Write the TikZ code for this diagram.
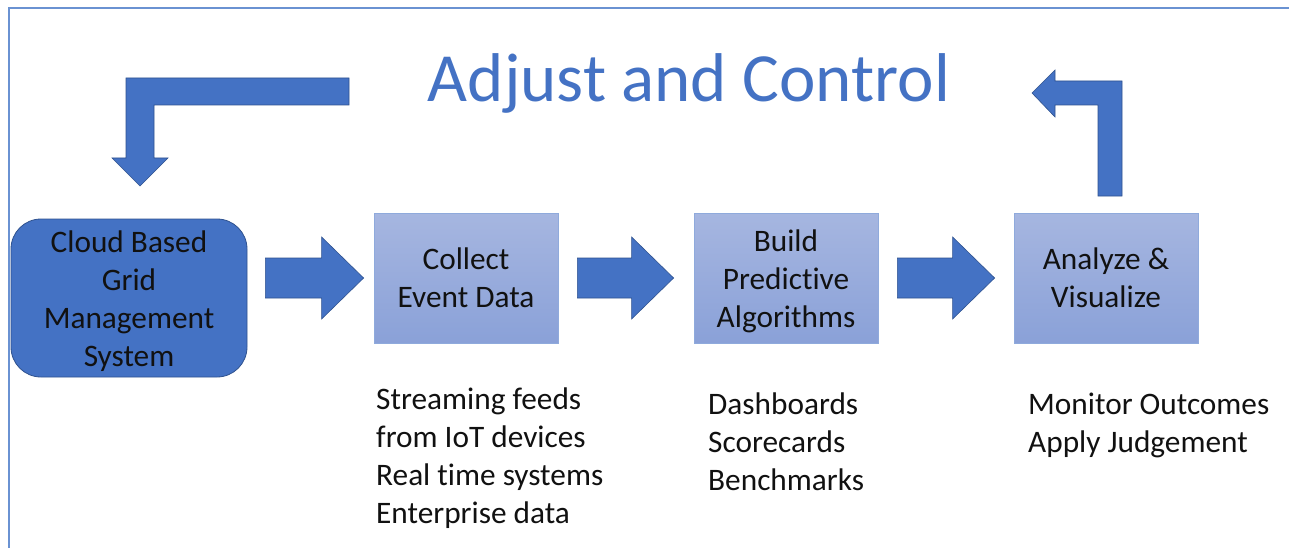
\documentclass[tikz,border=0pt]{standalone}
\usepackage{fontspec}
\setmainfont{Carlito}[Ligatures=NoCommon]
\usetikzlibrary{calc}

\definecolor{accent}{HTML}{4472C4}
\definecolor{accentdark}{HTML}{2F528F}
\definecolor{framecol}{HTML}{6A92D2}
\definecolor{boxtop}{HTML}{A6B6E0}
\definecolor{boxbot}{HTML}{8AA1D8}
\definecolor{boxline}{HTML}{8FAADC}
\definecolor{ink}{HTML}{111111}

\tikzset{
  body/.style={text=ink, font=\fontsize{31.3}{38}\selectfont},
  label/.style={body, align=center, inner sep=0pt},
  stage/.style={rectangle, draw=boxline, line width=0.8pt,
    top color=boxtop, bottom color=boxbot,
    minimum width=184pt, minimum height=130pt, inner sep=0pt,
    align=center, body},
  sourcebox/.style={rectangle, rounded corners=30pt, fill=accent,
    draw=accentdark, line width=0.8pt,
    minimum width=236pt, minimum height=158pt, inner sep=0pt},
  notes/.style={anchor=north west, inner sep=0pt, align=left, body},
  barrow/.style={fill=accent, draw=accentdark, line width=0.6pt, line join=miter},
}

% horizontal block arrow from #1 to #2 (tip at #2)
\newcommand\blockarrow[2]{%
  \path[barrow] let \p1=(#1), \p2=(#2) in
    (\x1,\y1+20pt) -- (\x2-42pt,\y1+20pt) -- (\x2-42pt,\y1+41pt) --
    (\x2,\y2) -- (\x2-42pt,\y1-41pt) -- (\x2-42pt,\y1-20pt) --
    (\x1,\y1-20pt) -- cycle;}

\begin{document}
\begin{tikzpicture}[x=1pt, y=-1pt]
  \useasboundingbox (0,0) rectangle (1289,548);
  \fill[white] (0,0) rectangle (1289,548);

  % outer frame, running off the right and bottom edges
  \draw[framecol, line width=1.6pt] (9,548) -- (9,8) -- (1289,8);

  % title
  \node[text=accent, font=\fontsize{69}{74}\selectfont, anchor=base]
    (title) at (689,102) {Adjust and Control};

  % stages
  \node[sourcebox] (cloud) at (129,298) {};
  \node[label] (cloudtext) at ($(cloud.center)+(0,3)$) {Cloud Based\\Grid\\Management\\System};
  \node[stage] (collect) at (466,278) {Collect\\Event Data};
  \node[stage] (build) at (786,278) {};
  \node[label] (buildtext) at ($(build.center)+(0,3)$) {Build\\Predictive\\Algorithms};
  \node[stage] (analyze) at (1106,278) {Analyze \&\\Visualize};

  % arrows between stages
  \coordinate (a1s) at ($(cloud.east |- collect.west)+(18,0)$);
  \coordinate (a1e) at ($(collect.west)+(-10,0)$);
  \coordinate (a2s) at ($(collect.east)+(19,0)$);
  \coordinate (a2e) at ($(build.west)+(-20,0)$);
  \coordinate (a3s) at ($(build.east)+(19,0)$);
  \coordinate (a3e) at ($(analyze.west)+(-19,0)$);
  \blockarrow{a1s}{a1e}
  \blockarrow{a2s}{a2e}
  \blockarrow{a3s}{a3e}

  % feedback arrows
  \path[barrow] (349,78) -- (126,78) -- (126,158) -- (112,158) -- (140,186)
    -- (168,158) -- (154,158) -- (154,105) -- (349,105) -- cycle;
  \path[barrow] (1122,196) -- (1122,81) -- (1055,81) -- (1055,70) -- (1032,93)
    -- (1055,117) -- (1055,105) -- (1098,105) -- (1098,196) -- cycle;

  % notes under the stages
  \node[notes] (n1) at (376,388) {Streaming feeds\\from IoT devices\\Real time systems\\Enterprise data};
  \node[notes] (n2) at (708,393) {Dashboards\\Scorecards\\Benchmarks};
  \node[notes] (n3) at (1028,393) {Monitor Outcomes\\Apply Judgement};
\end{tikzpicture}
\end{document}
